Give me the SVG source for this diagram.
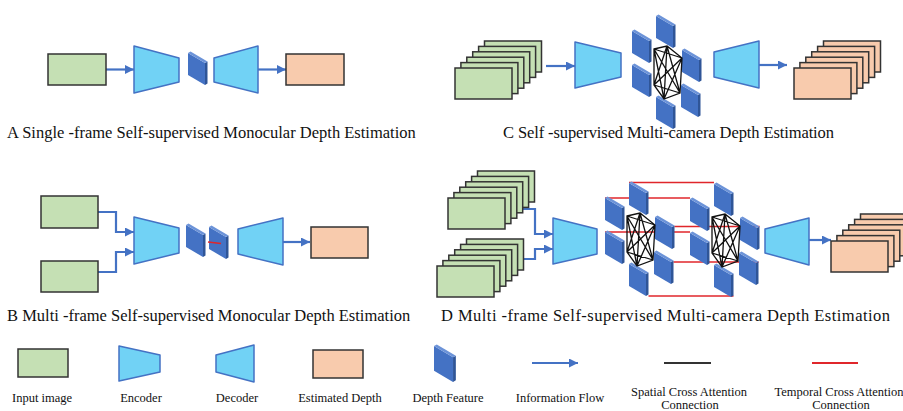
<svg xmlns="http://www.w3.org/2000/svg" xmlns:xlink="http://www.w3.org/1999/xlink" width="903" height="411" viewBox="0 0 903 411">
  <style>
    .img { fill: #C5E0B4; stroke: #333; stroke-width: 1.5; }
    .est { fill: #F8CBAD; stroke: #333; stroke-width: 1.5; }
    .frame { stroke: #333; stroke-width: 1.5; }
    .coder { fill: #71D2F5; stroke: #4472C4; stroke-width: 1.5; stroke-linejoin: round; }
    .flow { fill: none; stroke: #4472C4; stroke-width: 2.2; marker-end: url(#arrow); }
    .spatial { fill: none; stroke: #111; stroke-width: 1.3; }
    .temporal { fill: none; stroke: #E0262B; stroke-width: 1.5; }
    .cap { font-family: "Liberation Serif", "Times New Roman", serif; font-size: 16.5px; fill: #111; }
    .lbl { font-family: "Liberation Serif", "Times New Roman", serif; font-size: 12.5px; fill: #111; text-anchor: middle; }
  </style>
  <defs>
    <marker id="arrow" markerUnits="userSpaceOnUse" markerWidth="10" markerHeight="9" refX="9" refY="4.5" orient="auto">
      <path d="M0,0 L9,4.5 L0,9 z" fill="#4472C4"/>
    </marker>
    <!-- one depth-feature slab: front face, right edge, top edge -->
    <g id="slab">
      <polygon points="0,1 17,11 17,33 0,23" fill="#4472C4"/>
      <polygon points="17,11 19.5,9.5 19.5,31.5 17,33" fill="#2F5597"/>
      <polygon points="0,1 2.5,-0.5 19.5,9.5 17,11" fill="#6C93D8"/>
    </g>
    <!-- six stacked frames, front frame at (0,0); fill comes from the use element -->
    <g id="stack" class="frame">
      <rect x="29.5" y="-27" width="57" height="31"/>
      <rect x="23.6" y="-21.6" width="57" height="31"/>
      <rect x="17.7" y="-16.2" width="57" height="31"/>
      <rect x="11.8" y="-10.8" width="57" height="31"/>
      <rect x="5.9" y="-5.4" width="57" height="31"/>
      <rect x="0" y="0" width="57" height="31"/>
    </g>
    <!-- six camera features joined by spatial cross attention -->
    <g id="cluster">
      <use xlink:href="#slab" x="24" y="-15"/>
      <use xlink:href="#slab" x="0" y="0"/>
      <use xlink:href="#slab" x="50" y="19"/>
      <use xlink:href="#slab" x="0" y="34"/>
      <use xlink:href="#slab" x="49" y="54"/>
      <use xlink:href="#slab" x="24" y="66"/>
      <path class="spatial" d="M22,19 L35,16 L50,28 L48,63 L32,69 L22,55 Z M22,19 L50,28 M22,19 L48,63 M22,19 L32,69 M35,16 L48,63 M35,16 L32,69 M35,16 L22,55 M50,28 L32,69 M50,28 L22,55 M48,63 L22,55"/>
    </g>
  </defs>

  <rect width="903" height="411" fill="#fff"/>

  <!-- connectors -->
  <g id="connectors">
    <line class="flow" x1="106" y1="69.5" x2="134" y2="69.5"/>
    <line class="flow" x1="258" y1="69.5" x2="286" y2="69.5"/>
    <path class="flow" d="M98,212 H116 V232 H134"/>
    <path class="flow" d="M98,272 H116 V252 H134"/>
    <line class="flow" x1="283" y1="242" x2="310" y2="242"/>
    <line class="flow" x1="546" y1="66" x2="575" y2="66"/>
    <line class="flow" x1="759" y1="65" x2="787" y2="65"/>
    <path class="flow" d="M523,209 H535 V234 H553"/>
    <path class="flow" d="M524,259 H535 V249 H553"/>
    <line class="flow" x1="809" y1="240" x2="831" y2="240"/>
    <!-- temporal links between the two time steps -->
    <line class="temporal" x1="629" y1="182.5" x2="714" y2="182.5"/>
    <line class="temporal" x1="605" y1="198" x2="690" y2="198"/>
    <line class="temporal" x1="674.5" y1="226.5" x2="759.5" y2="226.5"/>
    <line class="temporal" x1="605" y1="232" x2="690" y2="232"/>
    <line class="temporal" x1="673.5" y1="262" x2="758.5" y2="262"/>
    <line class="temporal" x1="648.5" y1="296" x2="733.5" y2="296"/>
  </g>

  <!-- A: single frame -->
  <g id="a-input"><rect class="img" x="48" y="54" width="58" height="31"/></g>
  <g id="a-encoder"><polygon class="coder" points="134,46 179,58 179,82 134,93"/></g>
  <g id="a-feature"><use xlink:href="#slab" x="188" y="52"/></g>
  <g id="a-decoder"><polygon class="coder" points="214,58 258,46 258,93 214,82"/></g>
  <g id="a-depth"><rect class="est" x="286" y="54" width="58" height="31"/></g>
  <text class="cap" x="7" y="138">A Single -frame Self-supervised Monocular Depth Estimation</text>

  <!-- C: multi-camera -->
  <g id="c-inputs"><use xlink:href="#stack" x="455" y="68" fill="#C5E0B4"/></g>
  <g id="c-encoder"><polygon class="coder" points="575,42 621,53 621,77 575,88"/></g>
  <g id="c-features"><use xlink:href="#cluster" x="632" y="30"/></g>
  <g id="c-decoder"><polygon class="coder" points="714,52 759,41 759,88 714,77"/></g>
  <g id="c-depths"><use xlink:href="#stack" x="794" y="68" fill="#F8CBAD"/></g>
  <text class="cap" x="503" y="138" textLength="331">C Self -supervised Multi-camera Depth Estimation</text>

  <!-- B: multi-frame monocular -->
  <g id="b-input-1"><rect class="img" x="41" y="196" width="57" height="32"/></g>
  <g id="b-input-2"><rect class="img" x="41" y="261" width="57" height="31"/></g>
  <g id="b-encoder"><polygon class="coder" points="134,217 179,228 179,253 134,264"/></g>
  <g id="b-feature-1"><use xlink:href="#slab" x="186" y="224"/></g>
  <g id="b-feature-2"><use xlink:href="#slab" x="209" y="226"/></g>
  <g id="b-temporal-link"><line class="temporal" x1="208" y1="242" x2="221" y2="243.5"/></g>
  <g id="b-decoder"><polygon class="coder" points="238,229 283,218 283,265 238,254"/></g>
  <g id="b-depth"><rect class="est" x="311" y="227" width="57" height="31"/></g>
  <text class="cap" x="7" y="321">B Multi -frame Self-supervised Monocular Depth Estimation</text>

  <!-- D: multi-frame multi-camera -->
  <g id="d-inputs-1"><use xlink:href="#stack" x="448" y="198" fill="#C5E0B4"/></g>
  <g id="d-inputs-2"><use xlink:href="#stack" x="437" y="266" fill="#C5E0B4"/></g>
  <g id="d-encoder"><polygon class="coder" points="553,218 597,229 597,254 553,264"/></g>
  <g id="d-features-1"><use xlink:href="#cluster" x="605" y="197"/></g>
  <g id="d-features-2"><use xlink:href="#cluster" x="690" y="198"/></g>
  <g id="d-decoder"><polygon class="coder" points="765,229 809,218 809,265 765,253"/></g>
  <g id="d-depths"><use xlink:href="#stack" x="831" y="241" fill="#F8CBAD"/></g>
  <text class="cap" x="441" y="321" textLength="449">D Multi -frame Self-supervised Multi-camera Depth Estimation</text>

  <!-- legend -->
  <g id="legend">
    <rect class="img" x="18" y="349" width="50" height="28"/>
    <text class="lbl" x="42" y="402">Input image</text>
    <polygon class="coder" points="119,346 160,355 160,372 119,381"/>
    <text class="lbl" x="141" y="402">Encoder</text>
    <polygon class="coder" points="216,355 254,345 254,382 216,372"/>
    <text class="lbl" x="237" y="402">Decoder</text>
    <rect class="est" x="313" y="350" width="50" height="28"/>
    <text class="lbl" x="340" y="402">Estimated Depth</text>
    <use xlink:href="#slab" transform="translate(434,345) scale(1.12)"/>
    <text class="lbl" x="448" y="402">Depth Feature</text>
    <line class="flow" x1="532" y1="363" x2="578" y2="363"/>
    <text class="lbl" x="560" y="402">Information Flow</text>
    <line x1="664" y1="363" x2="711" y2="363" stroke="#333" stroke-width="2"/>
    <text class="lbl" x="689" y="396">Spatial Cross Attention</text>
    <text class="lbl" x="690" y="409">Connection</text>
    <line x1="812" y1="363" x2="858" y2="363" stroke="#E0262B" stroke-width="2"/>
    <text class="lbl" x="839" y="396">Temporal Cross Attention</text>
    <text class="lbl" x="841" y="409">Connection</text>
  </g>
</svg>
